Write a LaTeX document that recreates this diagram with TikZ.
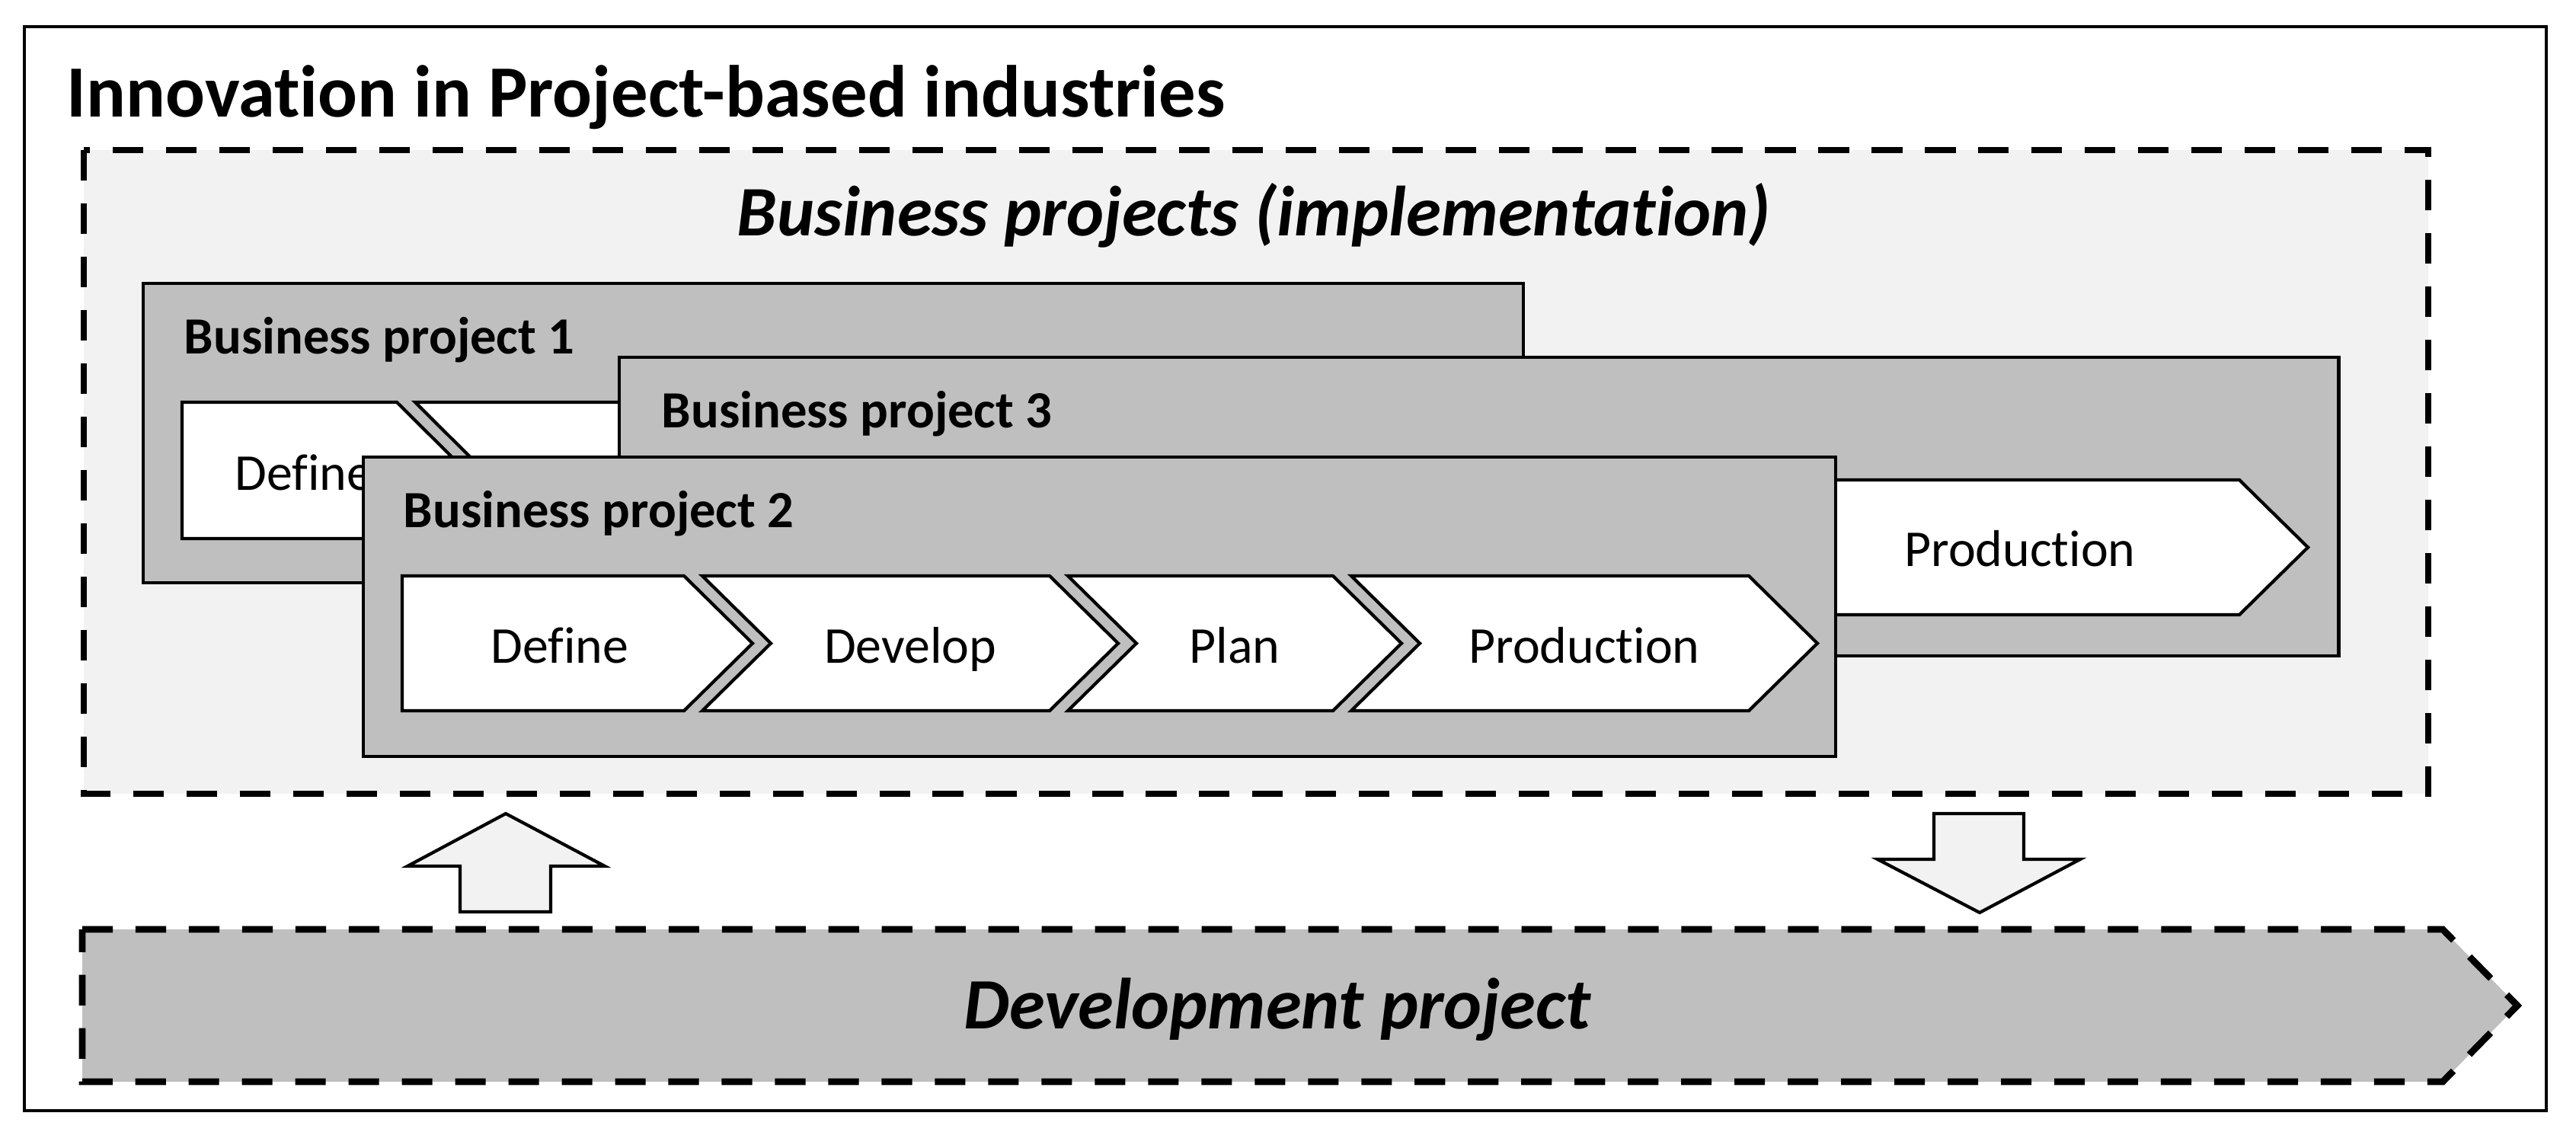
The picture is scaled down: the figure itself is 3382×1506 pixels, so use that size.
\documentclass[tikz,border=0pt]{standalone}
\usepackage{fontspec}
\setmainfont{Carlito}[Ligatures=NoCommon]
\usetikzlibrary{positioning}

\definecolor{lightfill}{HTML}{F2F2F2}
\definecolor{boxfill}{HTML}{BFBFBF}

\begin{document}
\begin{tikzpicture}[x=0.01cm, y=-0.01cm,
    frame/.style={draw, line width=1pt},
    group/.style={draw, line width=2.5pt, dash pattern=on 11.4pt off 8.5pt},
    project/.style={draw, fill=boxfill, line width=1.4pt},
    phase/.style={draw, fill=white, line width=1.2pt, line join=miter},
    blockarrow/.style={draw, fill=lightfill, line width=1.2pt},
    title/.style={inner sep=0pt, anchor=base west, font=\bfseries\fontsize{27.5pt}{33pt}\selectfont},
    heading/.style={inner sep=0pt, anchor=base, font=\bfseries\itshape\fontsize{26.5pt}{32pt}\selectfont},
    projlabel/.style={inner sep=0pt, anchor=base west, font=\bfseries\fontsize{19.5pt}{23pt}\selectfont},
    phasetext/.style={inner sep=0pt, anchor=base, font=\fontsize{19.3pt}{23pt}\selectfont}]
    \useasboundingbox (0,0) rectangle (3382,1506);

    % Frame
    \draw[frame] (32,35) rectangle (3343,1458);
    \node[title] (title) at (87,153) {Innovation in Project-based industries};

    % Business projects
    \draw[group, fill=lightfill] (110,197) rectangle (3188,1042);
    \node[heading] (business) at (1646,309) {Business projects (implementation)};

    % Business project 1
    \draw[project] (188,372) rectangle (2000,765);
    \node[projlabel] (bp1) at (241,464) {Business project 1};
    \draw[phase] (239,528) -- (521,528) -- (611,617.5) -- (521,707) -- (239,707) -- cycle;
    \draw[phase] (545,528) -- (1100,528) -- (1190,617.5) -- (1100,707) -- (545,707) -- (635,617.5) -- cycle;
    \node[phasetext] (bp1define) at (399,643) {Define};

    % Business project 3
    \draw[project] (813,469) rectangle (3070,861);
    \node[projlabel] (bp3) at (868,561) {Business project 3};
    \draw[phase] (2274,630) -- (2940,630) -- (3030,718.5) -- (2940,807) -- (2274,807) -- (2364,718.5) -- cycle;
    \node[phasetext] (bp3production) at (2652,743) {Production};

    % Business project 2
    \draw[project] (477,600) rectangle (2410,993);
    \node[projlabel] (bp2) at (529,692) {Business project 2};
    \draw[phase] (528,756) -- (898,756) -- (988,844.5) -- (898,933) -- (528,933) -- cycle;
    \node[phasetext] (bp2define) at (735,870) {Define};
    \foreach \back/\tip/\name/\txt in {922/1468/develop/Develop, 1402/1840/plan/Plan, 1774/2386/production/Production} {
        \draw[phase] (\back,756) -- (\tip-90,756) -- (\tip,844.5) -- (\tip-90,933) -- (\back,933) -- (\back+90,844.5) -- cycle;
        \node[phasetext] (bp2\name) at ({(\back+\tip)/2},870) {\txt};
    }

    % Arrows
    \draw[blockarrow] (664,1068) -- (794,1137) -- (723,1137) -- (723,1197) -- (604,1197) -- (604,1137) -- (535,1137) -- cycle;
    \draw[blockarrow] (2539,1068) -- (2657,1068) -- (2657,1128) -- (2731,1128) -- (2599,1198) -- (2465,1128) -- (2539,1128) -- cycle;

    % Development project
    \draw[group, fill=boxfill] (108,1220) -- (3207,1220) -- (3305,1320) -- (3207,1420) -- (108,1420) -- cycle;
    \node[heading, font=\bfseries\itshape\fontsize{27pt}{32pt}\selectfont] (development) at (1677,1350) {Development project};
\end{tikzpicture}
\end{document}
